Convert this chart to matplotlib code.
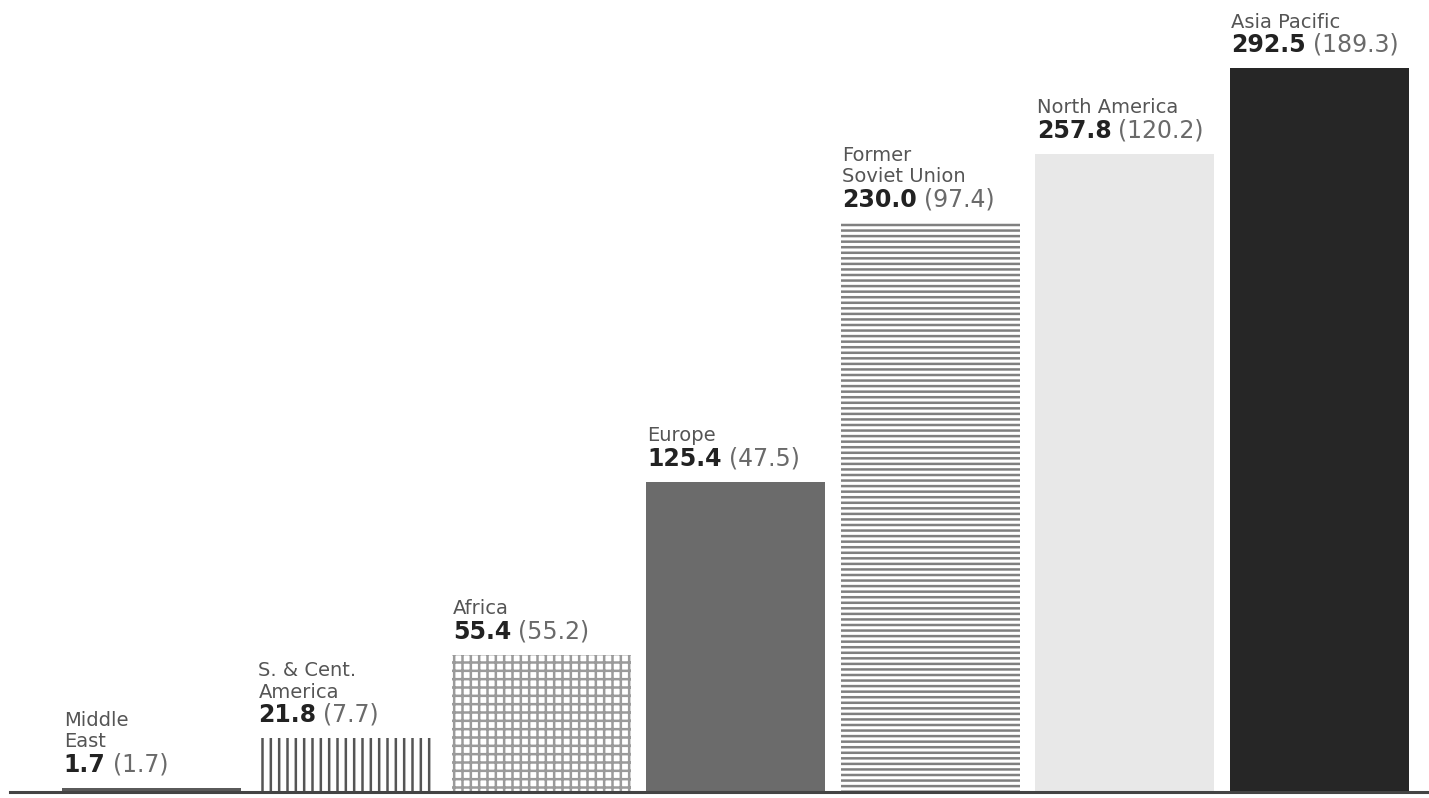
import matplotlib
matplotlib.use('Agg')
import matplotlib.pyplot as plt
import numpy as np

# regions, proved reserves (and value in brackets)
regions = ["Middle\nEast", "S. & Cent.\nAmerica", "Africa", "Europe",
           "Former\nSoviet Union", "North America", "Asia Pacific"]
values = [1.7, 21.8, 55.4, 125.4, 230.0, 257.8, 292.5]
bracket = [1.7, 7.7, 55.2, 47.5, 97.4, 120.2, 189.3]

facecolors = ["#5a5a5a", "white", "white", "#6b6b6b", "white", "#e8e8e8", "#262626"]
hatchcolors = ["#5a5a5a", "#555555", "#9a9a9a", "#6b6b6b", "#808080", "#e8e8e8", "#262626"]
hatches = [None, "||", "++", None, "---", None, None]

plt.rcParams['hatch.linewidth'] = 1.8

fig = plt.figure(figsize=(14.29, 7.98), dpi=100)
ax = fig.add_axes([0, 0, 1, 1])

x = np.arange(len(regions))
for i in range(len(regions)):
    ax.bar(x[i], values[i], width=0.92, color=facecolors[i],
           edgecolor=hatchcolors[i], linewidth=0, hatch=hatches[i], zorder=2)

ax.axhline(0, xmin=0.007, xmax=1, color="#444444", lw=2.2, zorder=3)

for i in range(len(regions)):
    left = x[i] - 0.46
    num = ax.annotate(f"{values[i]:.1f}", xy=(left, values[i]), xytext=(1, 8),
                      textcoords="offset points", fontsize=17, fontweight="bold",
                      color="#222222", ha="left", va="bottom")
    ax.annotate(f"({bracket[i]:.1f})", xy=(1, 0), xycoords=num, xytext=(5, 0),
                textcoords="offset points", fontsize=17, color="#6a6a6a",
                ha="left", va="bottom")
    ax.annotate(regions[i], xy=(0, 1), xycoords=num, xytext=(0, 1),
                textcoords="offset points", fontsize=14, color="#555555",
                ha="left", va="bottom", linespacing=1.15)

ax.set_xlim(-0.781, 6.563)
ax.set_ylim(-2.42, 320)
ax.axis('off')

plt.savefig("out.png", dpi=100)
